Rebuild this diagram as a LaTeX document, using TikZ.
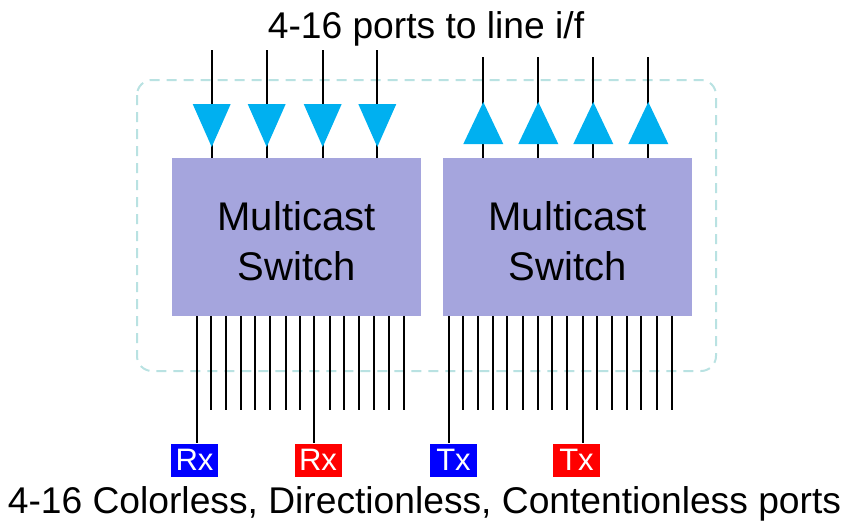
\documentclass[tikz,border=0pt]{standalone}
\usepackage{fontspec}
\setmainfont{Liberation Sans}
\definecolor{boxfill}{HTML}{A5A5DD}
\definecolor{tri}{HTML}{00B0F0}
\definecolor{dashteal}{HTML}{B9E2E2}
\definecolor{lblue}{HTML}{0000FF}
\definecolor{lred}{HTML}{FF0000}
\tikzset{
  switchbox/.style={draw=none,fill=boxfill,inner sep=0pt,minimum width=249pt,minimum height=158pt},
  switchtext/.style={inner sep=0pt,anchor=base,font=\fontsize{40}{50}\selectfont},
  port/.style={line width=2.2pt,black},
  tag/.style={inner sep=0pt,minimum width=47pt,minimum height=33pt,text=white,font=\fontsize{31}{32}\selectfont},
  caption/.style={inner sep=0pt,anchor=base,font=\fontsize{37.2}{40}\selectfont},
}
\begin{document}
\begin{tikzpicture}[x=1pt,y=1pt]
\useasboundingbox (0,0) rectangle (848,-522);
% dashed enclosure
\draw[draw=dashteal,line width=2pt,dash pattern=on 10pt off 7pt,rounded corners=15pt] (137,-80) rectangle (716,-371);
% switch boxes
\node[switchbox] (L) at (296.5,-237) {};
\node[switchbox] (R) at (567.5,-237) {};
\node[switchtext] (L1) at (296.5,-230) {Multicast};
\node[switchtext] (L2) at (296.5,-280) {Switch};
\node[switchtext] (R1) at (567.5,-230) {Multicast};
\node[switchtext] (R2) at (567.5,-280) {Switch};
% top ports, left (incoming)
\foreach \x in {211.7,266.7,322.7,377.3}{
  \draw[port] (\x,-50) -- (\x,-158);
  \fill[tri] (\x-19,-104) -- (\x+19,-104) -- (\x,-147) -- cycle;
}
% top ports, right (outgoing)
\foreach \x in {483.3,538.3,593.3,648.3}{
  \draw[port] (\x,-57) -- (\x,-158);
  \fill[tri] (\x-20,-144) -- (\x+20,-144) -- (\x,-102) -- cycle;
}
% labels
\node[tag,fill=lblue] (rx1) at (194.5,-460) {Rx};
\node[tag,fill=lred]  (rx2) at (318,-460) {Rx};
\node[tag,fill=lblue] (tx1) at (453.5,-460) {Tx};
\node[tag,fill=lred]  (tx2) at (576.5,-460) {Tx};
% bottom ports, left
\foreach \x in {210.7,225.7,240.7,255,270,285.7,300,330,344.3,359.3,374.3,388.7,404.3}{
  \draw[port] (\x,-316) -- (\x,-410);
}
\draw[port] (196.7,-316) -- (rx1.north -| 196.7,0);
\draw[port] (314.3,-316) -- (rx2.north -| 314.3,0);
% bottom ports, right
\foreach \x in {462.7,478.3,493.3,507.3,522.7,537.7,552.3,567,596.7,612,627.3,641.3,656.7,671.7}{
  \draw[port] (\x,-316) -- (\x,-410);
}
\draw[port] (449,-316) -- (tx1.north -| 449,0);
\draw[port] (582.7,-316) -- (tx2.north -| 582.7,0);
% captions
\node[caption] (top) at (426,-38) {4-16 ports to line i/f};
\node[caption] (bot) at (424.5,-513) {4-16 Colorless, Directionless, Contentionless ports};
\end{tikzpicture}
\end{document}
